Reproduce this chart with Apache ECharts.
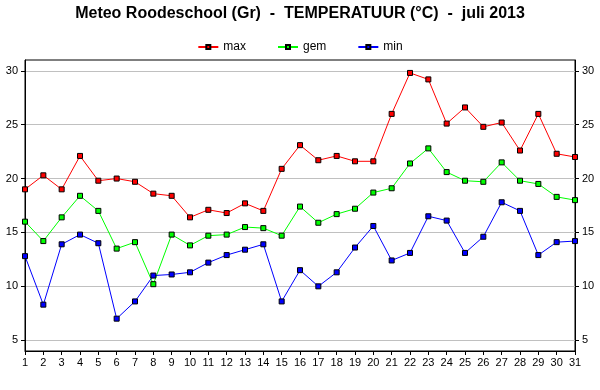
<!DOCTYPE html>
<html>
<head>
<meta charset="utf-8">
<script src="https://cdn.jsdelivr.net/npm/echarts@6/dist/echarts.min.js"></script>
<style>html,body{margin:0;padding:0;background:#fff}#c{width:600px;height:390px}</style>
</head>
<body>
<div id="c"></div>
<script>
var days = [];
for (var i = 1; i <= 31; i++) days.push(String(i));
var maxT = [19.0,20.3,19.0,22.1,19.8,20.0,19.7,18.6,18.4,16.4,17.1,16.8,17.7,17.0,20.9,23.1,21.7,22.1,21.6,21.6,26.0,29.8,29.2,25.1,26.6,24.8,25.2,22.6,26.0,22.3,22.0];
var gemT = [16.0,14.2,16.4,18.4,17.0,13.5,14.1,10.2,14.8,13.8,14.7,14.8,15.5,15.4,14.7,17.4,15.9,16.7,17.2,18.7,19.1,21.4,22.8,20.6,19.8,19.7,21.5,19.8,19.5,18.3,18.0];
var minT = [12.8,8.3,13.9,14.8,14.0,7.0,8.6,11.0,11.1,11.3,12.2,12.9,13.4,13.9,8.6,11.5,10.0,11.3,13.6,15.6,12.4,13.1,16.5,16.1,13.1,14.6,17.8,17.0,12.9,14.1,14.2];
var yTicks = [5,10,15,20,25,30];

var font = 'Arial, "Liberation Sans", sans-serif';
function yAxis(pos) {
  return {
    type: 'value', position: pos, min: 4, max: 31,
    axisLine: {show: true, lineStyle: {color: '#000', width: 1}},
    axisTick: {show: true, length: 4, customValues: yTicks, lineStyle: {color: '#000'}},
    axisLabel: {show: true, margin: 7, customValues: yTicks, color: '#000', fontSize: 11, fontFamily: font},
    splitLine: {show: pos === 'left', lineStyle: {color: '#c0c0c0', width: 1}}
  };
}
function mk(name, data, color) {
  return {
    name: name, type: 'line', data: data, yAxisIndex: 0,
    symbol: 'rect', symbolSize: 5, showSymbol: true,
    lineStyle: {color: color, width: 1},
    itemStyle: {color: color, borderColor: '#000', borderWidth: 1},
    emphasis: {disabled: true}, animation: false
  };
}
var chart = echarts.init(document.getElementById('c'), null, {renderer: 'canvas'});
chart.setOption({
  backgroundColor: '#fff',
  animation: false,
  title: {
    text: 'Meteo Roodeschool (Gr)  -  TEMPERATUUR (°C)  -  juli 2013',
    left: 'center', top: 1,
    textStyle: {fontSize: 16, fontWeight: 'bold', color: '#000', fontFamily: font}
  },
  legend: {
    top: 36, left: 'center', itemWidth: 20, itemHeight: 5, itemGap: 31,
    textStyle: {fontSize: 12, color: '#000', fontFamily: font},
    data: ['max', 'gem', 'min']
  },
  grid: {left: 25, right: 25, top: 60, bottom: 39, show: true, borderColor: '#000', borderWidth: 1, containLabel: false},
  xAxis: {
    type: 'category', data: days, boundaryGap: false,
    axisLine: {lineStyle: {color: '#000'}},
    axisTick: {length: 4, lineStyle: {color: '#000'}},
    axisLabel: {interval: 0, margin: 6, color: '#000', fontSize: 11, fontFamily: font},
    splitLine: {show: false}
  },
  yAxis: [yAxis('left'), yAxis('right')],
  series: [mk('max', maxT, '#ff0000'), mk('gem', gemT, '#00ff00'), mk('min', minT, '#0000ff')]
});
</script>
</body>
</html>
